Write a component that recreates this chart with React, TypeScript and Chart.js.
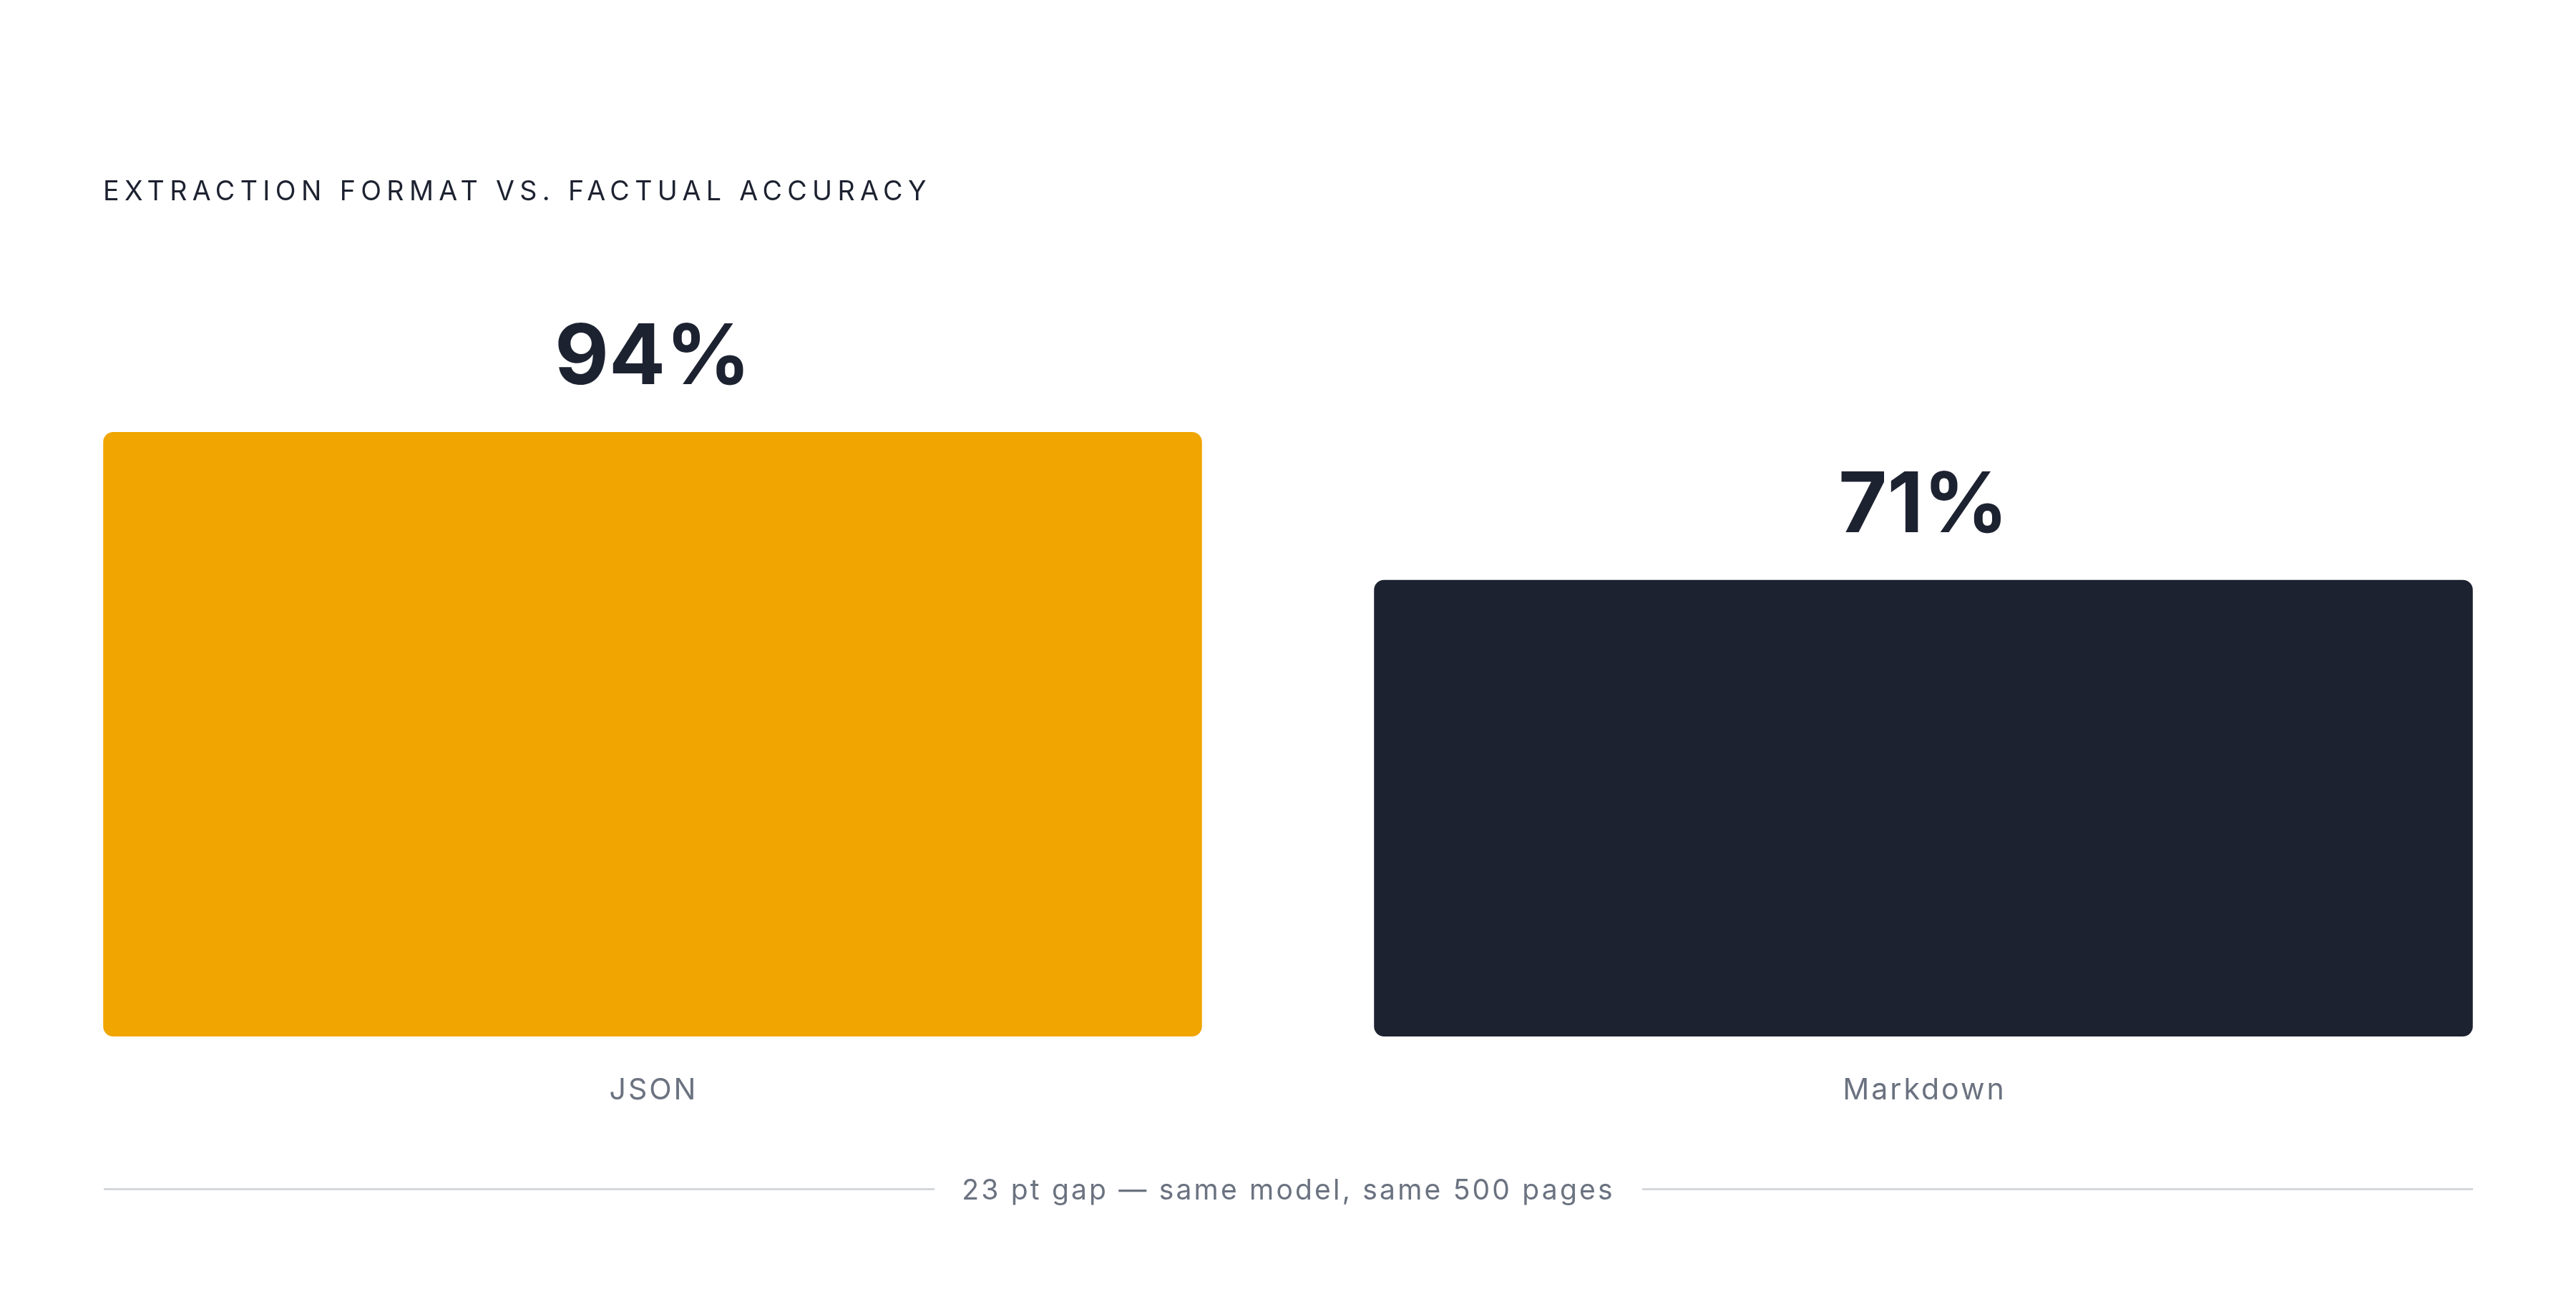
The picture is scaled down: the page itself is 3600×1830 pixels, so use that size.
import { useEffect, useRef } from "react";
import { Chart, registerables, ChartConfiguration, Plugin } from "chart.js";

Chart.register(...registerables);

const formats = ["JSON", "Markdown"];
const accuracy = [94, 71];
const barColors = ["#f0a500", "#1d2231"];

const TITLE = "EXTRACTION FORMAT VS. FACTUAL ACCURACY";
const FOOTNOTE = "23 pt gap — same model, same 500 pages";

const INK = "#1d2231";
const MUTED = "#6b7280";
const FONT = "Inter, 'Noto Sans', sans-serif";

// value labels above the bars, category names below
const labelsPlugin: Plugin<"bar"> = {
  id: "barLabels",
  afterDatasetsDraw(chart) {
    const { ctx } = chart;
    const meta = chart.getDatasetMeta(0);
    const xScale = chart.scales.x;
    const bottom = chart.chartArea.bottom;

    ctx.save();
    ctx.textAlign = "center";
    ctx.textBaseline = "alphabetic";

    ctx.fillStyle = INK;
    ctx.font = `700 117px ${FONT}`;
    meta.data.forEach((bar, i) => {
      const { x, y } = bar.getProps(["x", "y"], true);
      ctx.fillText(`${accuracy[i]}%`, x, y - 67);
    });

    ctx.fillStyle = MUTED;
    ctx.font = `400 41px ${FONT}`;
    (ctx as any).letterSpacing = "3px";
    formats.forEach((name, i) => {
      ctx.fillText(name, xScale.getPixelForValue(i) + 1.5, bottom + 88);
    });
    ctx.restore();
  },
};

export default function App() {
  const chartRef = useRef<HTMLCanvasElement | null>(null);

  useEffect(() => {
    if (!chartRef.current) return;
    const ctx = chartRef.current.getContext("2d");
    if (!ctx) return;

    const config: ChartConfiguration<"bar"> = {
      type: "bar",
      data: {
        labels: formats,
        datasets: [
          {
            data: accuracy,
            backgroundColor: barColors,
            borderRadius: 14,
            borderSkipped: false,
            barPercentage: 0.8646,
            categoryPercentage: 1,
          },
        ],
      },
      options: {
        responsive: true,
        maintainAspectRatio: false,
        animation: false,
        devicePixelRatio: 1,
        layout: { padding: { left: 24, right: 24, top: 550, bottom: 381 } },
        plugins: {
          legend: { display: false },
          tooltip: { enabled: false },
        },
        scales: {
          x: { display: false },
          y: { display: false, min: 0, max: 100 },
        },
      },
      plugins: [labelsPlugin],
    };

    const chart = new Chart(ctx, config);
    return () => {
      chart.destroy();
    };
  }, []);

  return (
    <div
      style={{
        position: "absolute",
        left: 0,
        top: 0,
        width: 3600,
        height: 1830,
        background: "#ffffff",
        fontFamily: FONT,
        overflow: "hidden",
      }}
    >
      <div style={{ position: "absolute", left: 0, top: 0, width: 3600, height: 1830 }}>
        <canvas ref={chartRef}></canvas>
      </div>
      <div
        style={{
          position: "absolute",
          left: 144,
          top: 247.5,
          fontSize: 37.6,
          lineHeight: 1,
          letterSpacing: "7.4px",
          color: INK,
          whiteSpace: "nowrap",
        }}
      >
        {TITLE}
      </div>
      <div
        style={{
          position: "absolute",
          left: 145,
          width: 3311,
          top: 1643,
          display: "flex",
          alignItems: "center",
          gap: 38,
        }}
      >
        <div style={{ flex: 1, height: 3, background: "#d4d6da" }} />
        <div
          style={{
            fontSize: 39,
            lineHeight: 1,
            letterSpacing: "3.2px",
            color: MUTED,
            whiteSpace: "nowrap",
          }}
        >
          {FOOTNOTE}
        </div>
        <div style={{ flex: 1, height: 3, background: "#d4d6da" }} />
      </div>
    </div>
  );
}
